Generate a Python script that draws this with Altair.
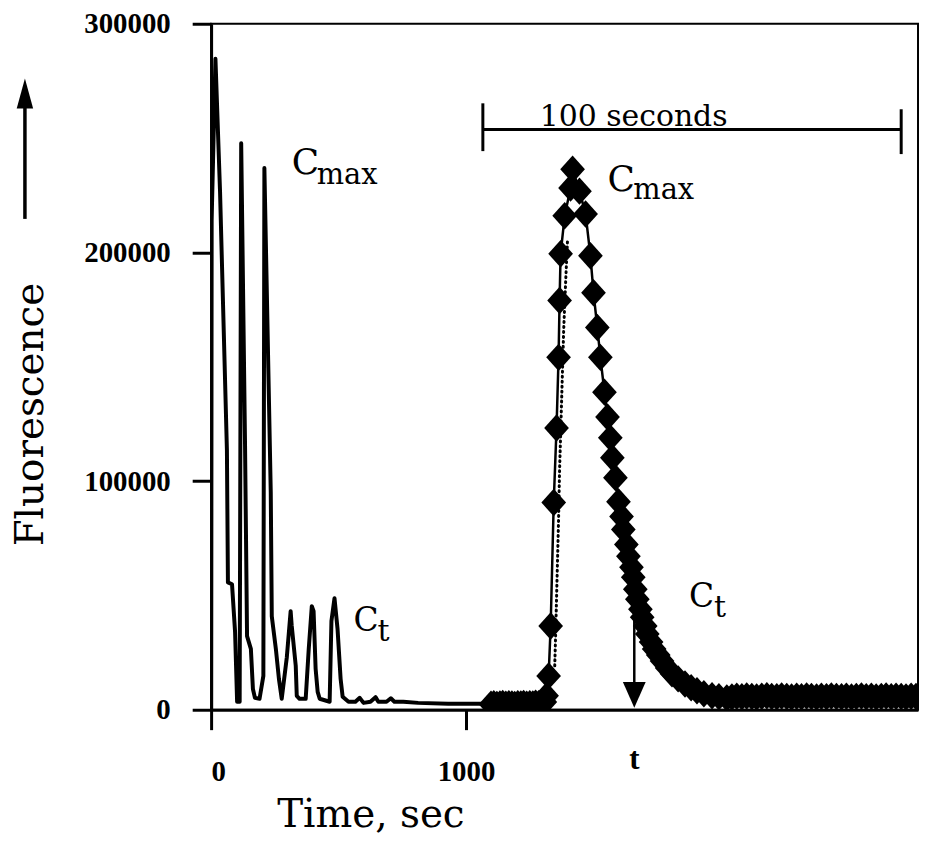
import altair as alt
import pandas as pd

# ---------------- data ----------------
# Left trace: repeated injections (time in s, fluorescence)
left_time = [0, 2, 17, 35, 62, 66, 82, 94, 102, 112, 118, 133, 141, 156, 164, 172,
             190, 205, 209, 234, 238, 254, 266, 277, 297, 312, 316, 332, 336, 347,
             371, 383, 395, 402, 410, 418, 426, 465, 472, 484, 496, 508, 516, 539,
             566, 583, 598, 625, 645, 656, 688, 705, 719, 754, 812, 930, 1059, 1100]
left_fluor = [0, 214000, 284700, 226800, 113600, 55700, 54900, 34000, 3500, 3500,
              247700, 116700, 32200, 26600, 9100, 5200, 4800, 14800, 236900, 94900,
              40900, 26600, 13500, 4800, 23000, 43100, 37000, 19200, 6100, 4800,
              4800, 26600, 45300, 43100, 17900, 7800, 4800, 3500, 38800, 48800,
              35300, 13500, 5700, 3500, 3500, 5200, 3000, 3500, 5500, 3500, 3500,
              5000, 3500, 3500, 3000, 2600, 2600, 2600]

# Right trace: expanded single peak with diamond markers
right_time = [1098, 1109, 1121, 1133, 1144, 1156, 1168, 1180, 1191, 1203, 1215, 1226,
              1238, 1250, 1262, 1273, 1285, 1297, 1309,
              1316, 1324, 1332, 1344, 1355, 1363, 1367, 1371, 1387, 1410, 1418,
              1445, 1469, 1488, 1500, 1515, 1527, 1543, 1555, 1566, 1574, 1586, 1598,
              1610, 1617, 1629, 1637, 1649, 1656, 1664, 1672, 1684, 1691, 1703, 1711,
              1726, 1738, 1754, 1769, 1789, 1808, 1832, 1859, 1883, 1906, 1933, 1965,
              1992, 2023,
              2043, 2062, 2082, 2101, 2121, 2140, 2160, 2180, 2199, 2219, 2238, 2258,
              2277, 2297, 2316, 2336, 2355, 2375, 2394, 2414, 2433, 2453, 2473, 2492,
              2512, 2531, 2551, 2570, 2590, 2609, 2629, 2648, 2668, 2687, 2707, 2726,
              2746, 2765]
right_fluor = [2400, 2600, 2300, 2500, 2700, 2400, 2600, 2500, 2300, 2600, 2500, 2700,
               2400, 2600, 2500, 2800, 2600, 2900, 3400,
               6100, 14800, 36600, 90600, 123200, 154100, 179000, 199400, 216000,
               228200, 236400,
               226800, 216800, 198500, 182400, 167200, 154100, 138900, 128000, 118900,
               110200, 101500, 91000, 84500, 78800, 72300, 67100, 62300, 57900, 52700,
               48300, 44000, 40500, 36600, 33100, 29600, 26600, 23900, 21300, 18300,
               15700, 13500, 11300, 9600, 8300, 7000, 6100, 5700, 5200,
               5600, 5900, 5700, 6000, 5800, 5600, 5900, 6100, 5800, 5700, 6000, 5800,
               5600, 5900, 5700, 6000, 5800, 5600, 5900, 5700, 6000, 5800, 5700, 5900,
               5600, 5800, 6000, 5700, 5900, 5600, 5800, 6000, 5700, 5900, 5800, 5600,
               5900, 5800]

# Dotted companion trace on the rising edge
dot_time = [1348, 1351, 1355, 1359, 1363, 1367, 1375, 1383, 1391, 1398]
dot_fluor = [19200, 30900, 48300, 65700, 83200, 104900, 135400, 165900, 187700, 205100]

x_ticks = [0, 1000]
y_ticks = [0, 100000, 200000, 300000]

# annotations
label_text = ["C", "max", "C", "max", "C", "t", "C", "t", "100 seconds"]
label_time = [316, 414, 1555, 1656, 559, 653, 1875, 1973, 1289]
label_fluor = [234200, 229900, 226800, 223400, 34400, 30000, 44800, 40500, 255100]
label_size = [36, 29, 36, 29, 33, 30, 33, 30, 30]

scalebar_time = [1066, 2707]
scalebar_fluor = 253800
scalebar_caps_time = [1066, 2707]
scalebar_caps_low = [244300, 243000]
scalebar_caps_high = [265200, 262600]

t_marker_time = 1660
t_marker_top = 44000
t_marker_shaft_end = 10000
t_marker_head = 6500
t_label_fluor = -25700

# ---------------- chart ----------------
FONT = "DejaVu Serif"
TICKFONT = "Liberation Serif"
xs = alt.Scale(domain=[0, 2773], nice=False, zero=False)
ys = alt.Scale(domain=[0, 300000], nice=False)

left_df = pd.DataFrame({"t": left_time, "f": left_fluor, "i": list(range(len(left_time)))})
right_df = pd.DataFrame({"t": right_time, "f": right_fluor, "i": list(range(len(right_time)))})
dot_df = pd.DataFrame({"t": dot_time, "f": dot_fluor})
lab_df = pd.DataFrame({"t": label_time, "f": label_fluor, "txt": label_text, "s": label_size})

x_axis = alt.Axis(values=x_ticks, format="d", grid=False, tickSize=20, tickWidth=3,
                  domainWidth=3, domainColor="black", tickColor="black",
                  labelFont=TICKFONT, labelFontSize=29, labelFontWeight="bold",
                  labelColor="black", labelPadding=28,
                  title="Time, sec", titleFont=FONT, titleFontSize=39,
                  titleFontWeight="normal", titleColor="black",
                  titleX=160, titleY=117, titleAlign="center",
                  titleBaseline="alphabetic")
y_axis = alt.Axis(values=y_ticks, format="d", grid=False, tickSize=19, tickWidth=3,
                  domainWidth=3, domainColor="black", tickColor="black",
                  labelFont=TICKFONT, labelFontSize=29, labelFontWeight="bold",
                  labelColor="black", labelPadding=22,
                  title="Fluorescence", titleFont=FONT, titleFontSize=39,
                  titleFontWeight="normal", titleColor="black", titleAngle=270,
                  titleX=-169, titleY=392, titleAlign="center",
                  titleBaseline="alphabetic")

left_line = alt.Chart(left_df).mark_line(
    color="black", strokeWidth=4, strokeJoin="round", clip=True
).encode(
    x=alt.X("t:Q", scale=xs, axis=x_axis),
    y=alt.Y("f:Q", scale=ys, axis=y_axis),
    order="i:Q",
)

right_line = alt.Chart(right_df).mark_line(
    color="black", strokeWidth=2.5, clip=True
).encode(x=alt.X("t:Q", scale=xs), y=alt.Y("f:Q", scale=ys), order="i:Q")

dot_line = alt.Chart(dot_df).mark_line(
    color="black", strokeWidth=3, strokeDash=[1, 4], strokeCap="round", clip=True
).encode(x=alt.X("t:Q", scale=xs), y=alt.Y("f:Q", scale=ys))

diamonds = alt.Chart(right_df).mark_point(
    shape="M0,-1L0.9,0L0,1L-0.9,0Z", filled=True, color="black", size=760,
    opacity=1, clip=True
).encode(x=alt.X("t:Q", scale=xs), y=alt.Y("f:Q", scale=ys))

labels = alt.Chart(lab_df).mark_text(
    font=FONT, align="left", baseline="alphabetic", color="black"
).encode(
    x=alt.X("t:Q", scale=xs), y=alt.Y("f:Q", scale=ys),
    text="txt:N", size=alt.Size("s:Q", scale=None),
)

bar_df = pd.DataFrame({"t": [scalebar_time[0]], "t2": [scalebar_time[1]], "f": [scalebar_fluor]})
bar = alt.Chart(bar_df).mark_rule(color="black", strokeWidth=3).encode(
    x=alt.X("t:Q", scale=xs), x2="t2:Q", y=alt.Y("f:Q", scale=ys))
caps_df = pd.DataFrame({"t": scalebar_caps_time, "lo": scalebar_caps_low, "hi": scalebar_caps_high})
caps = alt.Chart(caps_df).mark_rule(color="black", strokeWidth=3).encode(
    x=alt.X("t:Q", scale=xs), y=alt.Y("lo:Q", scale=ys), y2="hi:Q")

shaft_df = pd.DataFrame({"t": [t_marker_time], "a": [t_marker_top], "b": [t_marker_shaft_end]})
shaft = alt.Chart(shaft_df).mark_rule(color="black", strokeWidth=2.5).encode(
    x=alt.X("t:Q", scale=xs), y=alt.Y("a:Q", scale=ys), y2="b:Q")
head_df = pd.DataFrame({"t": [t_marker_time], "f": [t_marker_head]})
head = alt.Chart(head_df).mark_point(
    shape="M-0.88,-1L0.88,-1L0,1Z", filled=True, color="black", size=676, opacity=1
).encode(x=alt.X("t:Q", scale=xs), y=alt.Y("f:Q", scale=ys))

tlab_df = pd.DataFrame({"t": [t_marker_time], "f": [t_label_fluor], "txt": ["t"]})
tlab = alt.Chart(tlab_df).mark_text(
    font=TICKFONT, fontSize=31, fontWeight="bold", align="center", baseline="alphabetic",
    color="black"
).encode(x=alt.X("t:Q", scale=xs), y=alt.Y("f:Q", scale=ys), text="txt:N")

# upward arrow beside the y title (pixel placement in the left margin)
one = pd.DataFrame({"k": [0]})
yarrow_shaft = alt.Chart(one).mark_rule(color="black", strokeWidth=3.5).encode(
    x=alt.value(-187), y=alt.value(84), y2=alt.value(196))
yarrow_head = alt.Chart(one).mark_point(
    shape="M0,-1L0.55,1L-0.55,1Z", filled=True, color="black", size=900, opacity=1
).encode(x=alt.value(-187), y=alt.value(70))

chart = alt.layer(
    left_line, right_line, dot_line, diamonds, bar, caps, labels, shaft, head, tlab,
    yarrow_shaft, yarrow_head,
).properties(
    width=710, height=689,
    autosize=alt.AutoSizeParams(type="none"),
    padding={"left": 204, "top": 14, "right": 2, "bottom": 126},
    background="white",
).configure_view(
    stroke="black", strokeWidth=2
)

chart.save("out.html", embed_options={"renderer": "svg", "actions": False})
